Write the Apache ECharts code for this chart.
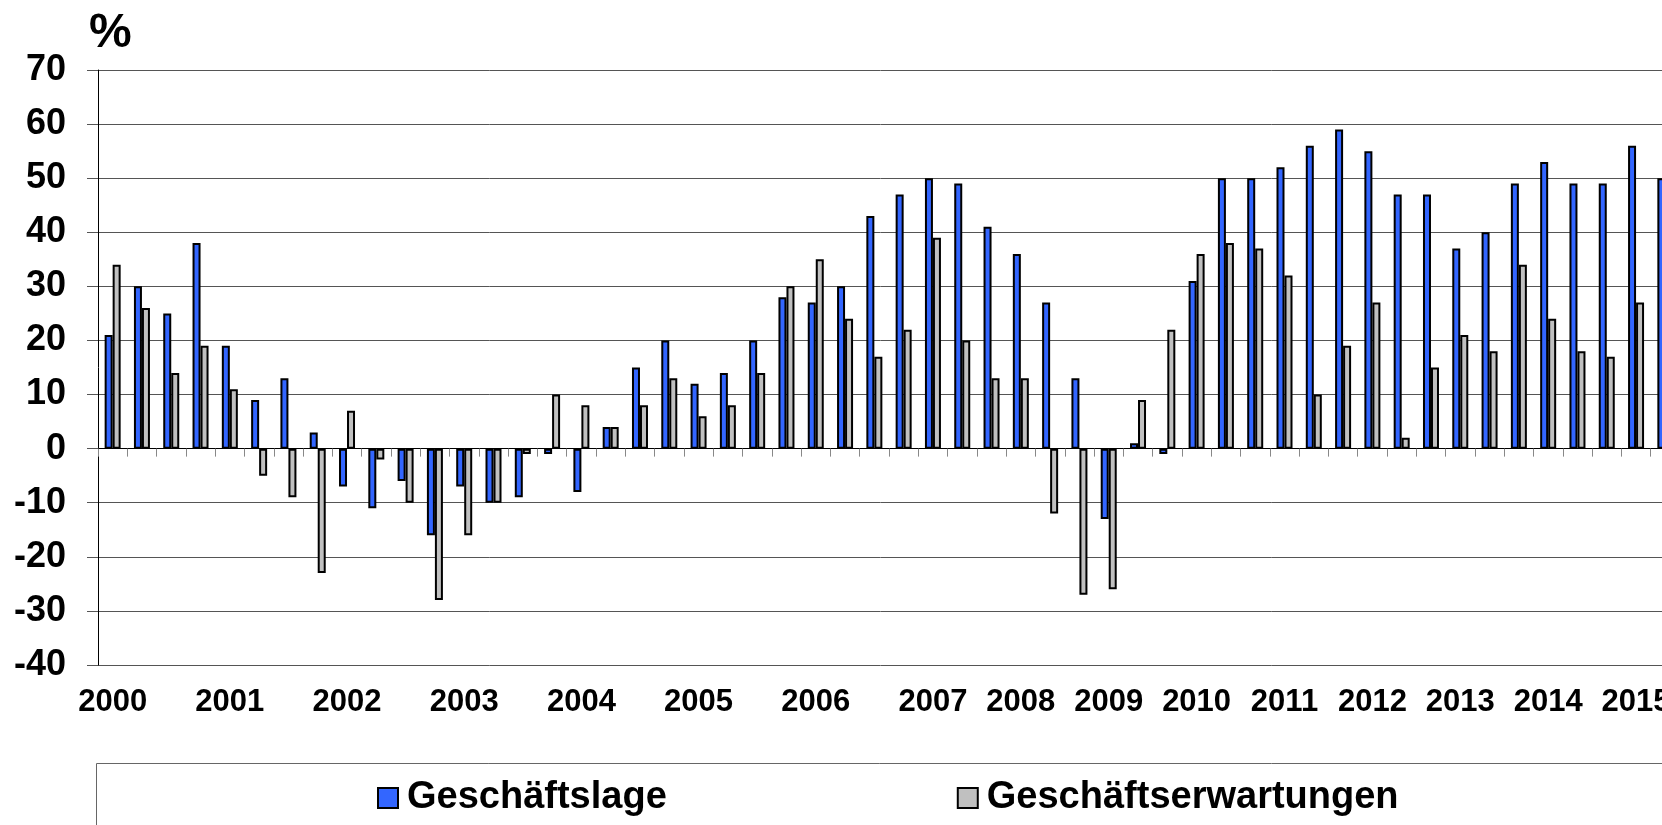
<!DOCTYPE html>
<html>
<head>
<meta charset="utf-8">
<script src="https://cdn.jsdelivr.net/npm/echarts@6.0.0/dist/echarts.min.js"></script>
<style>
  html, body { margin: 0; padding: 0; background: #fff; }
  #chart { width: 1662px; height: 825px; }
</style>
</head>
<body>
<div id="chart"></div>
<script>
// Befragungszeitpunkte: bis 2006 quartalsweise, ab 2007 dreimal pro Jahr
const periods = [
  '2000-1', '2000-2', '2000-3', '2000-4',
  '2001-1', '2001-2', '2001-3', '2001-4',
  '2002-1', '2002-2', '2002-3', '2002-4',
  '2003-1', '2003-2', '2003-3', '2003-4',
  '2004-1', '2004-2', '2004-3', '2004-4',
  '2005-1', '2005-2', '2005-3', '2005-4',
  '2006-1', '2006-2', '2006-3', '2006-4',
  '2007-1', '2007-2', '2007-3',
  '2008-1', '2008-2', '2008-3',
  '2009-1', '2009-2', '2009-3',
  '2010-1', '2010-2', '2010-3',
  '2011-1', '2011-2', '2011-3',
  '2012-1', '2012-2', '2012-3',
  '2013-1', '2013-2', '2013-3',
  '2014-1', '2014-2', '2014-3',
  '2015-1', '2015-2'
]

const tickLabels = [
  '2000', '', '', '',
  '2001', '', '', '',
  '2002', '', '', '',
  '2003', '', '', '',
  '2004', '', '', '',
  '2005', '', '', '',
  '2006', '', '', '',
  '2007', '', '',
  '2008', '', '',
  '2009', '', '',
  '2010', '', '',
  '2011', '', '',
  '2012', '', '',
  '2013', '', '',
  '2014', '', '',
  '2015', ''
]

const geschaeftslage = [
  21, 30, 25, 38,
  19, 9, 13, 3,
  -7, -11, -6, -16,
  -7, -10, -9, -1,
  -8, 4, 15, 20,
  12, 14, 20, 28,
  27, 30, 43, 47,
  50, 49, 41,
  36, 27, 13,
  -13, 1, -1,
  31, 50, 50,
  52, 56, 59,
  55, 47, 47,
  37, 40, 49,
  53, 49, 49,
  56, 50
]

const geschaeftserwartungen = [
  34, 26, 14, 19,
  11, -5, -9, -23,
  7, -2, -10, -28,
  -16, -10, -1, 10,
  8, 4, 8, 13,
  6, 8, 14, 30,
  35, 24, 17, 22,
  39, 20, 13,
  13, -12, -27,
  -26, 9, 22,
  36, 38, 37,
  32, 10, 19,
  27, 2, 15,
  21, 18, 34,
  24, 18, 17,
  27, null
]

const yTicks = { min: -40, max: 70, step: 10 }

const FONT = '"Liberation Sans", Arial, sans-serif'

const chart = echarts.init(document.getElementById('chart'), null, { renderer: 'canvas' })

const barStyle = (color) => ({
  color: color,
  borderColor: '#000',
  borderWidth: 2
})

const getOption = () => {
  return {
    animation: false,
    backgroundColor: '#fff',
    textStyle: { fontFamily: FONT },
    title: {
      text: '%',
      left: 84,
      top: 5,
      textStyle: {
        fontFamily: FONT,
        fontSize: 48,
        fontWeight: 'bold',
        color: '#000'
      }
    },
    // Rahmen der Legende läuft rechts und unten aus dem Bild
    graphic: [
      {
        type: 'rect',
        z: -1,
        shape: { x: 96.5, y: 763.5, width: 1700, height: 200 },
        style: { fill: 'none', stroke: '#666', lineWidth: 1 }
      }
    ],
    legend: {
      left: 377,
      top: 779,
      padding: 0,
      itemWidth: 20,
      itemHeight: 20,
      itemGap: 290,
      icon: 'rect',
      textStyle: {
        fontFamily: FONT,
        fontSize: 38,
        fontWeight: 'bold',
        color: '#000',
        padding: [0, 0, 0, 4]
      }
    },
    grid: {
      left: 98,
      top: 70,
      bottom: 160,
      right: -18,
      outerBoundsMode: 'none'
    },
    xAxis: [
      {
        type: 'category',
        data: periods,
        axisLine: { onZero: true, lineStyle: { color: '#000', width: 1 } },
        axisTick: { show: true, interval: 0, length: 8, lineStyle: { color: '#888' } },
        axisLabel: { show: false },
        splitLine: { show: false }
      },
      {
        type: 'category',
        data: periods,
        position: 'bottom',
        axisLine: { show: false, onZero: false },
        axisTick: { show: false },
        axisLabel: {
          interval: 0,
          margin: 22,
          formatter: (value, index) => tickLabels[index],
          fontFamily: FONT,
          fontSize: 31,
          fontWeight: 'bold',
          color: '#000'
        }
      }
    ],
    yAxis: {
      type: 'value',
      min: yTicks.min,
      max: yTicks.max,
      interval: yTicks.step,
      axisLine: { show: true, lineStyle: { color: '#000', width: 1 } },
      axisTick: { show: true, length: 11, lineStyle: { color: '#555' } },
      axisLabel: {
        margin: 32,
        fontFamily: FONT,
        fontSize: 36,
        fontWeight: 'bold',
        color: '#000'
      },
      splitLine: { lineStyle: { color: '#555', width: 1 } }
    },
    series: [
      {
        name: 'Geschäftslage',
        type: 'bar',
        xAxisIndex: 0,
        barWidth: 8,
        barGap: '0%',
        itemStyle: barStyle('#3366FF'),
        data: geschaeftslage
      },
      {
        name: 'Geschäftserwartungen',
        type: 'bar',
        xAxisIndex: 0,
        barWidth: 8,
        barGap: '0%',
        itemStyle: barStyle('#C0C0C0'),
        data: geschaeftserwartungen
      }
    ]
  }
}

chart.setOption(getOption())
</script>
</body>
</html>
